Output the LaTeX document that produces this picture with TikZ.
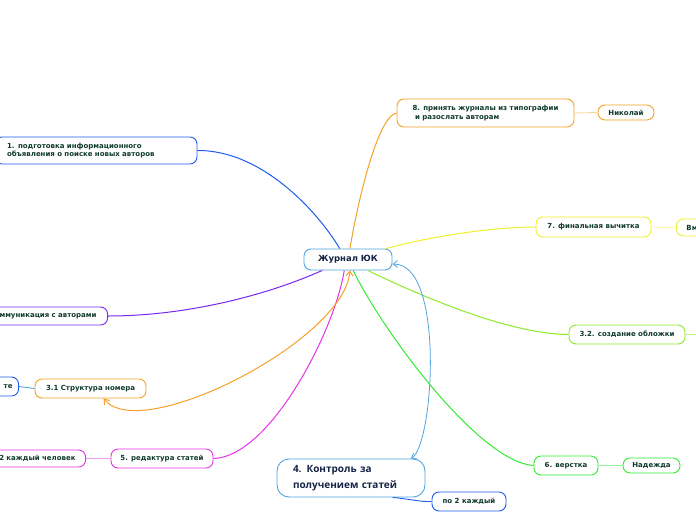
\documentclass[tikz,border=0pt]{standalone}
\usepackage{fontspec}
\setmainfont{DejaVu Sans}
\newfontfamily\headfont{Open Sans}
\usepackage{xcolor}
\usetikzlibrary{positioning, arrows.meta}

\definecolor{txtgreen}{RGB}{16,58,48}
\definecolor{txtnavy}{RGB}{20,35,70}
\definecolor{cblue}{RGB}{30,90,240}
\definecolor{corange}{RGB}{245,160,40}
\definecolor{cyellow}{RGB}{240,240,40}
\definecolor{clime}{RGB}{140,235,40}
\definecolor{cgreen}{RGB}{50,235,50}
\definecolor{cmagenta}{RGB}{230,50,230}
\definecolor{cpurple}{RGB}{120,40,240}
\definecolor{csky}{RGB}{80,165,225}

\begin{document}
\begin{tikzpicture}[x=1pt, y=-1pt,
  box/.style={draw, line width=0.9pt, fill=white, rounded corners=7pt, inner xsep=0pt, inner ysep=0pt,
    font=\fontsize{7}{8.6}\selectfont\bfseries, text=txtgreen},
  link/.style={line width=1pt},
  sublink/.style={line width=0.9pt},
  arrow/.style={line width=1pt, {Straight Barb[length=1.6mm, width=2.4mm]}-{Straight Barb[length=1.6mm, width=2.4mm]}}
]
\useasboundingbox (0,0) rectangle (696,520);
\clip (0,0) rectangle (696,520);

% Centre
\node[box, draw=csky, minimum width=88pt, minimum height=21pt, font=\fontsize{8.5}{10}\selectfont\bfseries, text=txtnavy] (cen) at (348,259.5) {Журнал ЮК};

% Left side
\node[box, draw=cblue, minimum height=27pt, text width=178pt, inner xsep=12pt, align=left] (n1) at (96,150.5) {1. подготовка информационного\\объявления о поиске новых авторов};
\node[box, draw=cpurple, minimum height=18pt, text width=108pt, inner xsep=11pt, align=right, anchor=east] (n2) at (108,316) {ммуникация с авторами};
\node[box, draw=corange, minimum width=111pt, minimum height=19pt] (n31) at (90.5,388.5) {3.1 Структура номера};
\node[box, draw=cblue, minimum height=19pt, text width=30pt, inner xsep=6pt, align=right, anchor=east] (n31a) at (19,386.5) {те};
\node[box, draw=cmagenta, minimum width=102pt, minimum height=19pt] (n5) at (162,458.5) {5. редактура статей};
\node[box, draw=cmagenta, minimum height=17pt, text width=90pt, inner xsep=10pt, align=right, anchor=east] (n5a) at (86,458.5) {2 каждый человек};

% Right side
\node[box, draw=corange, minimum width=177pt, minimum height=28pt, align=left] (n8) at (485.5,113) {8. принять журналы из типографии\\\hspace{2.5pt}и разослать авторам};
\node[box, draw=corange, minimum width=56pt, minimum height=15pt] (n8a) at (626,112.5) {Николай};
\node[box, draw=cyellow, minimum width=115pt, minimum height=20pt] (n7) at (593.5,227) {7. финальная вычитка};
\node[box, draw=cyellow, minimum height=17pt, text width=50pt, inner xsep=10pt, align=left, anchor=west] (n7a) at (676,227.5) {Вм};
\node[box, draw=clime, minimum width=116pt, minimum height=19pt] (n32) at (627,334.5) {3.2. создание обложки};
\coordinate (n32a) at (712,334.5);
\node[box, draw=cgreen, minimum width=64pt, minimum height=19pt] (n6) at (566,465.5) {6. верстка};
\node[box, draw=cgreen, minimum width=57pt, minimum height=15pt] (n6a) at (651.5,465.5) {Надежда};

% Bottom
\node[box, draw=csky, text width=116pt, inner xsep=16pt, minimum height=38pt, align=left, rounded corners=12pt,
  font=\headfont\fontsize{10}{15.5}\selectfont\bfseries, text=txtnavy] (n4) at (351,478) {4. Контроль за\\получением статей};
\node[box, draw=cblue, minimum width=74pt, minimum height=19pt] (n4a) at (469,501.5) {по 2 каждый};

% Branches
\draw[link, cblue] (n1.east) .. controls (262,150) and (318,212) .. (cen.127);
\draw[link, corange] (cen.80) .. controls (358,200) and (378,116) .. (n8.west);
\draw[link, cyellow] (cen.16) .. controls (440,234) and (500,227) .. (n7.west);
\draw[link, clime] (cen.-29) .. controls (425,298) and (510,334) .. (n32.west);
\draw[link, cgreen] (cen.-65) .. controls (385,335) and (480,462) .. (n6.west);
\draw[link, cmagenta] (cen.-109) .. controls (335,330) and (270,457) .. (n5.east);
\draw[link, cpurple] (cen.-157) .. controls (265,296) and (185,316) .. (n2.east);

% Sub-branches
\draw[sublink, corange!45] (n8.east) -- (n8a.west);
\draw[sublink, cyellow!45] (n7.east) -- (n7a.west);
\draw[sublink, clime!60] (n32.east) -- (n32a);
\draw[sublink, cgreen!50] (n6.east) -- (n6a.west);
\draw[sublink, cmagenta!50] (n5.west) -- (n5a.east);
\draw[sublink, csky] (n31.west) -- (n31a.east);
\draw[sublink, cblue] (n4.-25) .. controls (410,499) and (420,502) .. (n4a.west);

% Relations
\draw[arrow, corange] (n31.-37) .. controls (140,445) and (345,340) .. (cen.-80);
\draw[arrow, csky, line width=0.8pt] (cen.-6) .. controls (445,262) and (434,445) .. (n4.18);
\end{tikzpicture}
\end{document}
